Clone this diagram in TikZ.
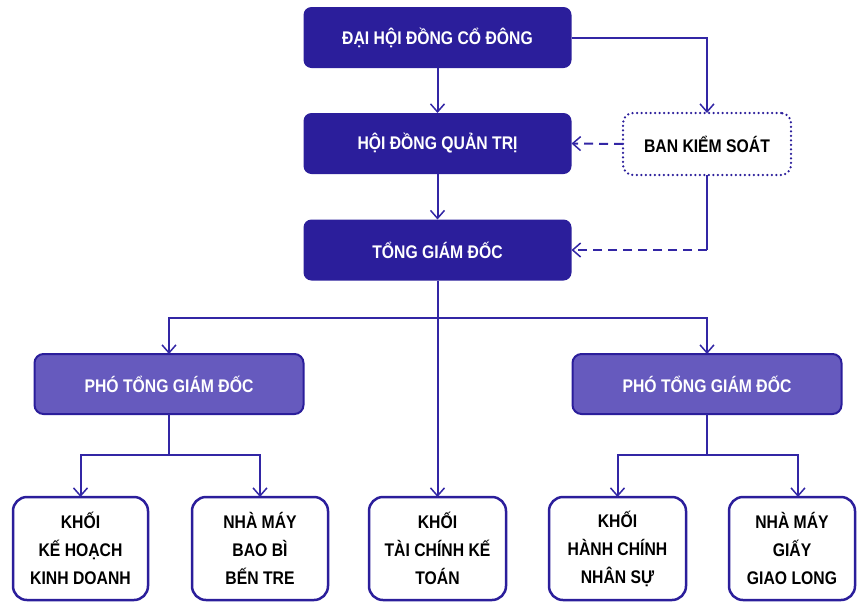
\documentclass[tikz,border=0pt]{standalone}
\usepackage{fontspec}
\setmainfont[FakeStretch=0.86]{Liberation Sans}
\usetikzlibrary{arrows.meta}
\definecolor{navy}{RGB}{43,30,155}
\definecolor{midp}{RGB}{102,90,190}
\definecolor{lnc}{RGB}{50,38,165}
\begin{document}
\begin{tikzpicture}[x=1pt,y=-1pt,
  base/.style={rectangle, outer sep=0pt, inner sep=0pt, align=center,
    font=\fontsize{18.3}{28}\selectfont\bfseries},
  topbox/.style={base, fill=navy, text=white, rounded corners=8pt,
    minimum width=268pt, minimum height=61pt},
  dotbox/.style={base, draw=navy, line width=2.5pt, line cap=round,
    dash pattern=on 0pt off 4.5pt, rounded corners=10pt, fill=white, text=black,
    minimum width=168pt, minimum height=62pt},
  pbox/.style={base, fill=midp, draw=navy, line width=2pt, text=white,
    rounded corners=9pt, minimum width=269pt, minimum height=60pt},
  wbox/.style={base, draw=navy, line width=2.5pt, rounded corners=14pt,
    fill=white, text=black, minimum width=136pt, minimum height=103pt},
  line/.style={draw=lnc, line width=2pt},
  conn/.style={line, -{Straight Barb[length=8pt,width=14pt,line width=1.5pt]}},
  dashline/.style={dash pattern=on 9pt off 6pt}]
\useasboundingbox (0,0) rectangle (857,603);
\node[topbox] (dh) at (437.5,37.5) {ĐẠI HỘI ĐỒNG CỔ ĐÔNG};
\node[topbox] (hd) at (437.5,143.5) {HỘI ĐỒNG QUẢN TRỊ};
\node[topbox] (tg) at (437.5,250) {TỔNG GIÁM ĐỐC};
\node[dotbox] (bks) at (707,144) {BAN KIỂM SOÁT};
\node[pbox] (p1) at (169,384) {PHÓ TỔNG GIÁM ĐỐC};
\node[pbox] (p2) at (707,384) {PHÓ TỔNG GIÁM ĐỐC};
\node[wbox, minimum width=135pt] (w1) at (80.5,548.5) {KHỐI\\KẾ HOẠCH\\KINH DOANH};
\node[wbox] (w2) at (260,548.5) {NHÀ MÁY\\BAO BÌ\\BẾN TRE};
\node[wbox, minimum width=137pt] (w3) at (437.5,548.5) {KHỐI\\TÀI CHÍNH KẾ\\TOÁN};
\node[wbox, minimum width=137pt] (w4) at (617.5,548.5) {KHỐI\\HÀNH CHÍNH\\NHÂN SỰ};
\node[wbox, minimum width=126pt] (w5) at (792,548.5) {NHÀ MÁY\\GIẤY\\GIAO LONG};
\coordinate (bus) at (437.5,318);
\coordinate (b1) at (169,455);
\coordinate (b2) at (707,455);
\coordinate (bksturn) at (707,250);
\draw[conn] (dh.south) -- (hd.north);
\draw[conn] (hd.south) -- (tg.north);
\draw[conn] (dh.east) -| (bks.north);
\draw[conn, dashline] (bks.west) -- (hd.east);
\draw[line] (bks.south) -- (bksturn);
\draw[conn, dashline] (bksturn) -- (tg.east);
\draw[conn] (tg.south) -- (w3.north);
\draw[conn] (bus) -| (p1.north);
\draw[conn] (bus) -| (p2.north);
\draw[line] (p1.south) -- (b1);
\draw[conn] (b1) -| (w1.north);
\draw[conn] (b1) -| (w2.north);
\draw[line] (p2.south) -- (b2);
\draw[conn] (b2) -| (w4.north);
\draw[conn] (b2) -| ([xshift=6pt]w5.north);
\end{tikzpicture}
\end{document}
